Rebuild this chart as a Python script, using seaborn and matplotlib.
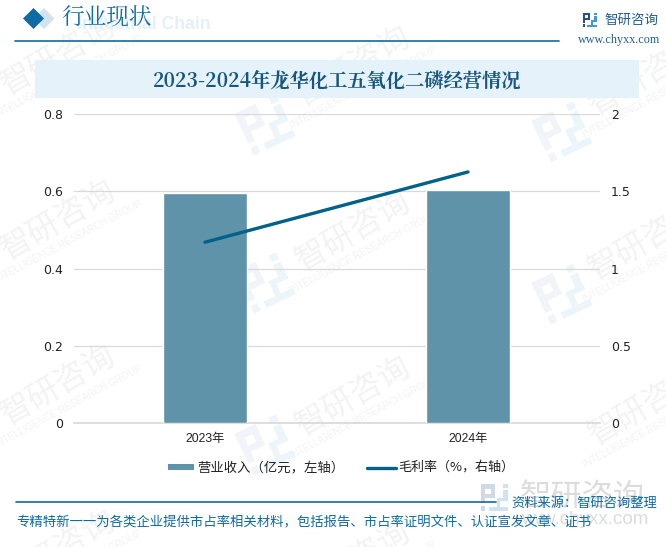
import numpy as np
import pandas as pd
import matplotlib
matplotlib.use("Agg")
import matplotlib.pyplot as plt
from matplotlib.patches import Polygon, Rectangle
from matplotlib.transforms import Affine2D
import seaborn as sns

years = ["2023年", "2024年"]
revenue = [0.595, 0.604]
margin = [1.17, 1.625]
left_ticks = [0, 0.2, 0.4, 0.6, 0.8]
left_labels = ["0", "0.2", "0.4", "0.6", "0.8"]
right_ticks = [0, 0.5, 1, 1.5, 2]
right_labels = ["0", "0.5", "1", "1.5", "2"]

sns.set_theme(style="white")
plt.rcParams['font.family'] = ['Noto Sans CJK SC', 'DejaVu Sans']
SERIF = ['Noto Serif CJK SC', 'Noto Sans CJK SC', 'DejaVu Sans']
W, H = 666, 547
BAR = "#5f93aa"
LINE = "#00628b"
BLUE = "#0f6ba3"
TXT = "#222222"
WM = "#f3f3f3"

fig = plt.figure(figsize=(W/100, H/100), dpi=100, facecolor="white")

bg = fig.add_axes([0, 0, 1, 1], zorder=0)
bg.set_xlim(0, W); bg.set_ylim(H, 0); bg.axis("off")

DARK_RECTS = [(0, 0, .5, .17), (.36, 0, .5, .48), (.14, .36, .5, .5), (0, 0, .16, .72), (0, .82, .16, 1)]
LIGHT_RECTS = [(.82, 0, 1, .15), (.82, .22, 1, .62), (.58, .5, 1, .62), (.58, .5, .72, .85), (.3, .85, 1, 1)]


def logo(ax, cx, cy, size, angle, dark, light, z=1):
    tf = (Affine2D().translate(-.5, -.5).scale(size).rotate_deg(angle).translate(cx, cy) + ax.transData)
    for rects, col in ((DARK_RECTS, dark), (LIGHT_RECTS, light)):
        for x0, y0, x1, y1 in rects:
            ax.add_patch(Rectangle((x0, y0), x1 - x0, y1 - y0, fc=col, ec="none", transform=tf, zorder=z))


# watermarks
for x, y in [(58, 55), (353, 66), (646, 75),
             (58, 220), (353, 231), (646, 240),
             (58, 385), (353, 396), (646, 405),
             (58, 550), (353, 561)]:
    bg.text(x, y, "智研咨询", fontsize=23, color=WM, rotation=30, ha="center", va="center", zorder=0.5)
    bg.text(x + 10, y + 22, "INTELLIGENCE RESEARCH GROUP", fontsize=7, color=WM, rotation=28,
            ha="center", va="center", zorder=0.5, family="Liberation Sans")
for x, y in [(265, 125), (265, 283), (265, 445), (562, 132), (562, 294)]:
    logo(bg, x, y, 46, -25, "#f1f4f8", "#ecf5fa", z=0.6)

# header
bg.add_patch(Polygon([(44, 8), (54.5, 18.5), (44, 29), (33.5, 18.5)], closed=True, fc="#d2e3ee", ec="none", zorder=2))
bg.add_patch(Polygon([(33.5, 8), (44, 18.5), (33.5, 29), (23, 18.5)], closed=True, fc=BLUE, ec="none", zorder=2.1))
bg.text(211, 24.5, "Industrial Chain", fontsize=12.7, fontweight="bold", color="#e3f0f9", ha="right", va="center",
        family="Liberation Sans", zorder=2)
bg.text(107, 18, "行业现状", fontsize=16.3, color=BLUE, ha="center", va="center", family=SERIF, zorder=3)
bg.plot([15, 559], [40.5, 40.5], color=BLUE, lw=1.2, zorder=2)

# top-right logo
logo(bg, 590, 20, 14, 0, "#2a4c94", "#3f9bd8", z=2)
bg.text(631.5, 20, "智研咨询", fontsize=9.7, color="#1f5f8f", ha="center", va="center", zorder=3)
bg.text(619.5, 40, "www.chyxx.com", fontsize=8.7, color="#1f5f8f", ha="center", va="center",
        family="Liberation Serif", zorder=3)

# title band
bg.add_patch(Rectangle((35, 60), 604, 38, fc="#e6f2fa", ec="none", zorder=2))
bg.text(337.5, 81, "2023-2024年龙华化工五氧化二磷经营情况", fontsize=13.9, fontweight="bold",
        color="#17577f", ha="center", va="center", family=SERIF, zorder=3)

# chart
L, R, T, B = 73.5, 599.5, 114, 423
ax = fig.add_axes([L/W, 1 - B/H, (R - L)/W, (B - T)/H], zorder=2)
ax.patch.set_alpha(0)
df = pd.DataFrame({"year": years, "revenue": revenue})
sns.barplot(data=df, x="year", y="revenue", color=BAR, saturation=1, width=0.316, ax=ax, zorder=3)
ax.set_xlim(-0.5, 1.5)
ax.set_ylim(0, 0.8)
ax.set_yticks(left_ticks, left_labels, family="DejaVu Sans")
ax.set_xlabel(""); ax.set_ylabel("")
ax.grid(axis="y", color="#d9d9d9", lw=0.9, zorder=0)
ax.set_axisbelow(True)
for s in ["top", "left", "right"]:
    ax.spines[s].set_visible(False)
ax.spines["bottom"].set_color("#d9d9d9")
ax.tick_params(axis="y", length=0, labelsize=9, colors=TXT, pad=7.5)
ax.tick_params(axis="x", length=0, labelsize=8.8, colors=TXT, pad=7)
for t in ax.get_xticklabels():
    t.set_family(["Liberation Sans", "Noto Sans CJK SC"])

ax2 = ax.twinx()
ax2.patch.set_alpha(0)
sns.lineplot(x=np.arange(len(years)), y=margin, color=LINE, lw=2.4, ax=ax2, errorbar=None,
             solid_capstyle="round")
ax2.set_ylim(0, 2)
ax2.set_yticks(right_ticks, right_labels, family="DejaVu Sans")
ax2.grid(False)
ax2.set_ylabel("")
for s in ["top", "left", "right", "bottom"]:
    ax2.spines[s].set_visible(False)
ax2.tick_params(axis="y", length=0, labelsize=9, colors=TXT, pad=8.3)

# legend and footer
top = fig.add_axes([0, 0, 1, 1], zorder=3)
top.set_xlim(0, W); top.set_ylim(H, 0); top.axis("off")
top.add_patch(Rectangle((168, 464), 26, 6, fc=BAR, ec="none"))
top.text(197, 467.5, "营业收入（亿元，左轴）", fontsize=9.6, color=TXT, ha="left", va="center")
top.plot([367, 396], [468, 468], color=LINE, lw=2.4, solid_capstyle="round")
top.text(398, 467.5, "毛利率（%，右轴）", fontsize=9.4, color=TXT, ha="left", va="center")

top.text(582, 497, "智研咨询", fontsize=22.5, color="#dcdcdc", ha="center", va="center", zorder=1)
top.text(582, 520, "www.chyxx.com", fontsize=13.5, color="#dcdcdc", ha="center", va="center",
         family="Liberation Sans", zorder=1)
logo(top, 494.5, 497.5, 27, 0, "#d2d9e6", "#cfe3f2", z=1)
top.plot([16, 496], [502, 502], color=BLUE, lw=1.2, zorder=2)
top.text(657, 503, "资料来源：智研咨询整理", fontsize=9.5, color=BLUE, ha="right", va="center", zorder=3)
top.text(16, 522.7, "专精特新一一为各类企业提供市占率相关材料，包括报告、市占率证明文件、认证宣发文章、证书",
         fontsize=9.65, color=BLUE, ha="left", va="center", zorder=3)

fig.savefig("out.png", dpi=100)
